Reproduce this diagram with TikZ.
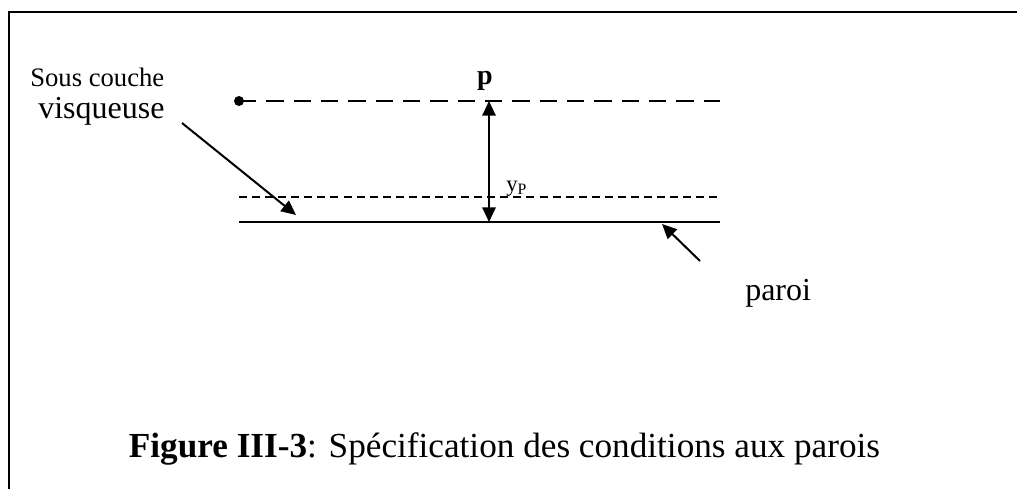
\documentclass[tikz,border=0pt]{standalone}
\usepackage{fontspec}
\setmainfont{Liberation Serif}
\usetikzlibrary{arrows.meta,positioning}
\tikzset{
  >={Triangle[length=11pt,width=10pt]},
  frameln/.style={line width=1.6pt},
  wallln/.style={line width=1.5pt},
  sublayer/.style={line width=1.1pt,dash pattern=on 6pt off 3.8pt},
  pline/.style={line width=2.2pt,dash pattern=on 13pt off 7.5pt},
  pdot/.style={circle,fill=black,inner sep=0pt,minimum size=7.5pt},
  dimarr/.style={<->,line width=1.5pt},
  ptrarr/.style={->,line width=1.5pt},
  lbl/.style={inner sep=0pt,anchor=base west},
  smalltxt/.style={font=\fontsize{20}{24}\selectfont},
  bigtxt/.style={font=\fontsize{24}{28}\selectfont},
  captxt/.style={font=\fontsize{26.4}{30}\selectfont},
}

\begin{document}
\begin{tikzpicture}[x=0.75pt,y=-0.75pt]
  \useasboundingbox (0,0) rectangle (1017,489);
  % frame (open at right and bottom)
  \draw[frameln] (9,489) -- (9,12) -- (1017,12);
  % lines
  \node[pdot] (pt) at (239,101) {};
  \coordinate (ptR) at (720,101);
  \coordinate (slL) at (239,197);
  \coordinate (slR) at (720,197);
  \coordinate (wL) at (239,222);
  \coordinate (wR) at (720,222);
  \draw[pline] (pt.center) -- (ptR);
  \draw[sublayer] (slL) -- (slR);
  \draw[wallln] (wL) -- (wR);
  % distance y_P
  \coordinate (dTop) at (489,101);
  \coordinate (dBot) at (489,222);
  \draw[dimarr] (dTop) -- (dBot);
  \node[inner sep=0pt,anchor=base,font=\bfseries\fontsize{21}{24}\selectfont] (p) at (485,84) {p};
  \node[lbl,font=\fontsize{17}{20}\selectfont] (yp) at (506,191) {y\textsubscript{P}};
  % labels
  \node[lbl,smalltxt] (sous) at (30,86) {Sous couche};
  \node[lbl,bigtxt] (visq) at (38,118) {visqueuse};
  \coordinate (vsA) at (182,123);
  \coordinate (vsB) at (296,215);
  \draw[ptrarr] (vsA) -- (vsB);
  \node[lbl,bigtxt] (paroi) at (745,300) {paroi};
  \coordinate (paA) at (700,261);
  \coordinate (paB) at (662,224);
  \draw[ptrarr] (paA) -- (paB);
  % caption
  \node[inner sep=0pt,anchor=base,captxt] (cap) at (504.5,457)
    {\textbf{Figure III-3}: Spécification des conditions aux parois};
\end{tikzpicture}
\end{document}
